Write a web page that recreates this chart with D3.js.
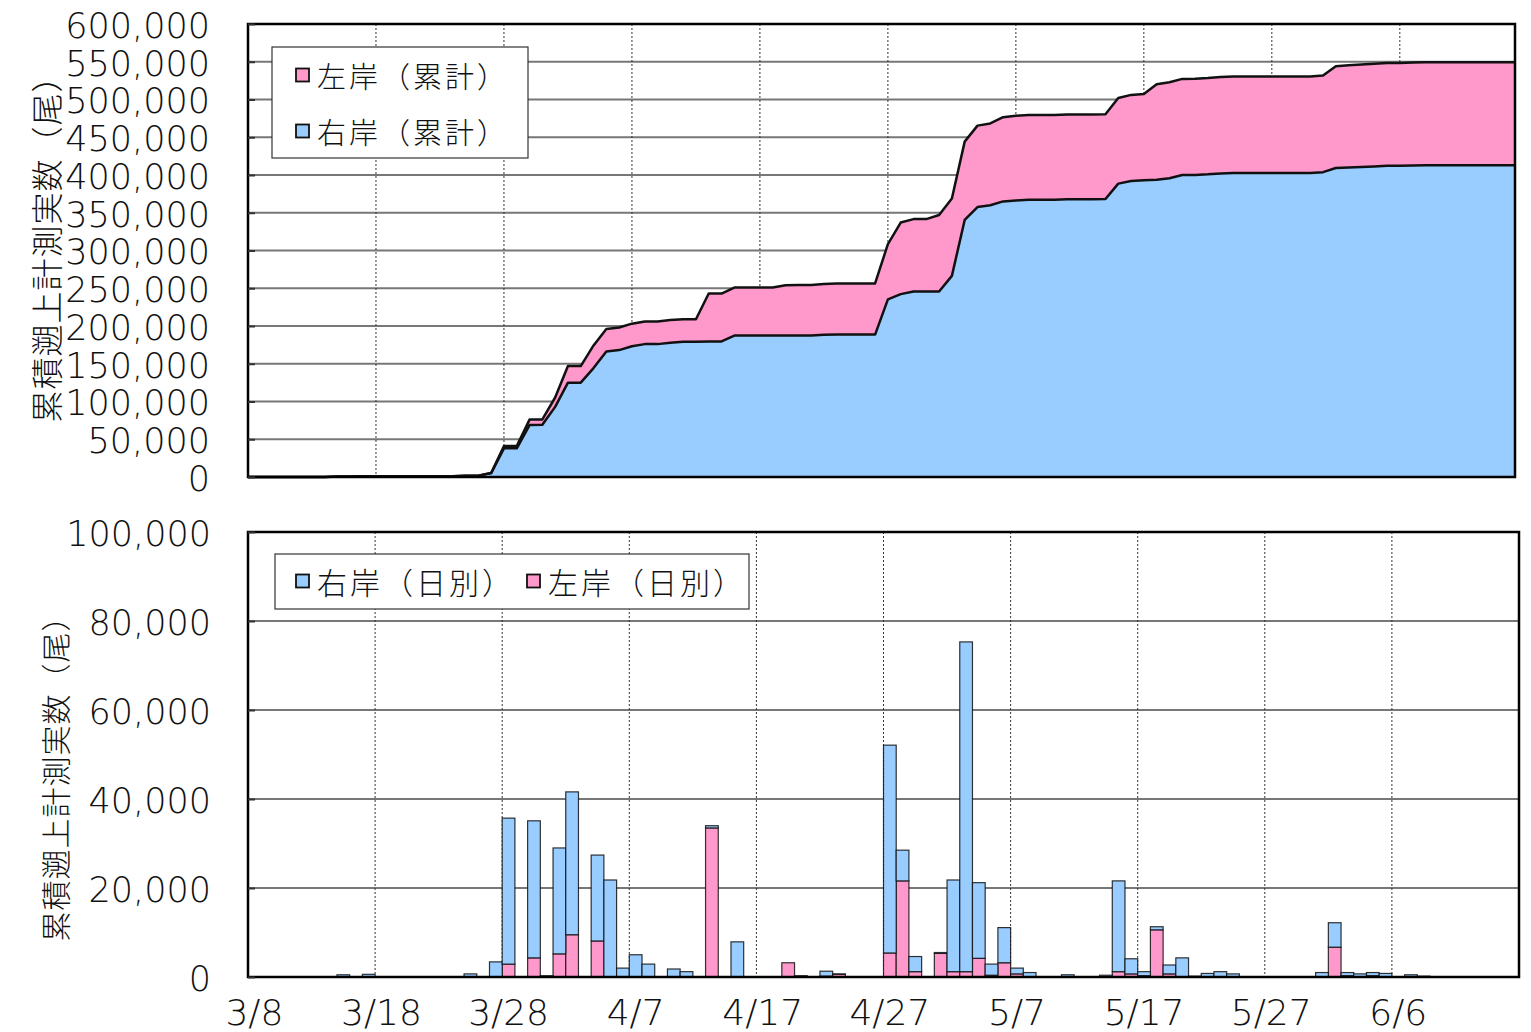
<!DOCTYPE html>
<html>
<head>
<meta charset="utf-8">
<script src="https://cdnjs.cloudflare.com/ajax/libs/d3/7.8.5/d3.min.js"></script>
<style>
  body { margin: 0; background: #fff; }
  svg { display: block; }
</style>
</head>
<body>
<svg id="chart" width="1531" height="1032"></svg>
<script>
// ── Data (index 0 = 3/8, one value per day up to 6/15) ─────────────────────
const START_DATE = new Date(2021, 2, 8);
const N_DAYS = 100;
const TICK_EVERY = 10;

// daily counts, bottom chart
const RIGHT_DAILY = [
  0, 0, 0, 0, 0, 0, 0, 500, 0, 600,
  0, 0, 0, 0, 0, 0, 0, 700, 0, 3400,
  32800, 0, 30800, 300, 23800, 32100, 0, 19300, 21800, 2000,
  5000, 2900, 0, 1800, 1200, 0, 500, 0, 7900, 0,
  0, 0, 0, 0, 0, 1100, 100, 0, 0, 0,
  46700, 6900, 3400, 0, 200, 20600, 74100, 17000, 2500, 7900,
  1300, 1000, 0, 0, 500, 0, 0, 400, 20400, 3400,
  900, 700, 2000, 4300, 200, 800, 1200, 700, 0, 0,
  0, 0, 0, 0, 1000, 5500, 700, 700, 700, 800,
  0, 500, 200, 0, 0, 0, 0, 0, 0, 0
];
const LEFT_DAILY = [
  0, 0, 0, 0, 0, 0, 0, 0, 0, 0,
  0, 0, 0, 0, 0, 0, 0, 0, 0, 0,
  2900, 0, 4300, 0, 5200, 9500, 0, 8100, 0, 0,
  0, 0, 0, 0, 0, 0, 33500, 0, 0, 0,
  0, 0, 3200, 300, 0, 200, 600, 0, 0, 0,
  5400, 21600, 1200, 0, 5300, 1200, 1200, 4200, 400, 3200,
  700, 0, 0, 0, 0, 0, 0, 0, 1200, 700,
  300, 10600, 700, 0, 0, 0, 0, 0, 0, 0,
  0, 0, 0, 0, 0, 6700, 300, 0, 300, 0,
  0, 0, 0, 0, 0, 0, 0, 0, 0, 0
];

// cumulative counts, top chart
const RIGHT_CUM = [
  0, 0, 0, 0, 0, 0, 0, 500, 500, 1100,
  1100, 1100, 1100, 1100, 1100, 1100, 1100, 1800, 1800, 5200,
  38000, 38000, 68800, 69100, 92900, 125000, 125000, 144300, 166100, 168100,
  173100, 176000, 176000, 177800, 179000, 179000, 179500, 179500, 187400, 187400,
  187400, 187400, 187400, 187400, 187400, 188500, 188600, 188600, 188600, 188600,
  235300, 242200, 245600, 245600, 245800, 266400, 340500, 357500, 360000, 365000,
  366300, 367300, 367300, 367300, 367800, 367800, 367800, 368200, 388600, 392000,
  392900, 393600, 395600, 399900, 400100, 400900, 402100, 402800, 402800, 402800,
  402800, 402800, 402800, 402800, 403800, 409300, 410000, 410700, 411400, 412200,
  412200, 412700, 412900, 412900, 412900, 412900, 412900, 412900, 412900, 412900
];
const LEFT_CUM = [
  0, 0, 0, 0, 0, 0, 0, 0, 0, 0,
  0, 0, 0, 0, 0, 0, 0, 0, 0, 0,
  2900, 2900, 7200, 7200, 12400, 21900, 21900, 30000, 30000, 30000,
  30000, 30000, 30000, 30000, 30000, 30000, 63500, 63500, 63500, 63500,
  63500, 63500, 66700, 67000, 67000, 67200, 67800, 67800, 67800, 67800,
  73200, 94800, 96000, 96000, 101300, 102500, 103700, 107900, 108300, 111500,
  112200, 112200, 112200, 112200, 112200, 112200, 112200, 112200, 113400, 114100,
  114400, 126500, 127200, 127400, 127500, 127600, 127700, 127800, 127800, 127800,
  127800, 127800, 127800, 127800, 128000, 134800, 135400, 135600, 136000, 136200,
  136200, 136400, 136500, 136500, 136500, 136500, 136600, 136600, 136600, 136600
];

const TOP_Y_TICKS = d3.range(0, 600001, 50000);
const BOTTOM_Y_TICKS = [0, 20000, 40000, 60000, 80000, 100000];
const Y_TITLE = '累積遡上計測実数（尾）';
const TOP_LEGEND = ['左岸（累計）', '右岸（累計）'];
const BOTTOM_LEGEND = ['右岸（日別）', '左岸（日別）'];

const PINK = '#ff99cc', BLUE = '#99ccff';
const NUM_FONT = '"DejaVu Sans", sans-serif';
const JP_FONT = '"Noto Sans CJK JP", sans-serif';

const days = d3.range(N_DAYS);
const dayLabel = i => d3.timeFormat('%-m/%-d')(d3.timeDay.offset(START_DATE, i));

const svg = d3.select('#chart');

// ── Top chart: stacked cumulative areas ───────────────────────────────────
const TOP = { left: 248, right: 1515, top: 24, bottom: 477 };
const xTop = d3.scalePoint().domain(days).range([TOP.left, TOP.right]);
const yTop = d3.scaleLinear().domain([0, 600000]).range([TOP.bottom, TOP.top]);

const topG = svg.append('g');

// gridlines
topG.selectAll('line.hgrid').data(TOP_Y_TICKS.slice(1, -1)).join('line')
  .attr('x1', TOP.left).attr('x2', TOP.right)
  .attr('y1', d => yTop(d)).attr('y2', d => yTop(d))
  .attr('stroke', '#777').attr('stroke-width', 2);
topG.selectAll('line.vgrid').data(days.filter(d => d > 0 && d % TICK_EVERY === 0)).join('line')
  .attr('x1', d => xTop(d)).attr('x2', d => xTop(d))
  .attr('y1', TOP.top).attr('y2', TOP.bottom)
  .attr('stroke', '#333').attr('stroke-width', 1).attr('stroke-dasharray', '2,2');

const areaRight = d3.area()
  .x(i => xTop(i)).y0(yTop(0)).y1(i => yTop(RIGHT_CUM[i]));
const areaLeft = d3.area()
  .x(i => xTop(i)).y0(i => yTop(RIGHT_CUM[i])).y1(i => yTop(RIGHT_CUM[i] + LEFT_CUM[i]));

topG.append('path').datum(days).attr('d', areaRight).attr('fill', BLUE);
topG.append('path').datum(days).attr('d', areaLeft).attr('fill', PINK);
topG.append('path').datum(days)
  .attr('d', d3.line().x(i => xTop(i)).y(i => yTop(RIGHT_CUM[i])))
  .attr('fill', 'none').attr('stroke', '#111').attr('stroke-width', 2.5).attr('stroke-linejoin', 'round');
topG.append('path').datum(days)
  .attr('d', d3.line().x(i => xTop(i)).y(i => yTop(RIGHT_CUM[i] + LEFT_CUM[i])))
  .attr('fill', 'none').attr('stroke', '#111').attr('stroke-width', 2.5).attr('stroke-linejoin', 'round');

topG.append('rect')
  .attr('x', TOP.left).attr('y', TOP.top)
  .attr('width', TOP.right - TOP.left).attr('height', TOP.bottom - TOP.top)
  .attr('fill', 'none').attr('stroke', '#000').attr('stroke-width', 2.5);

topG.append('g')
  .attr('transform', `translate(${TOP.left},0)`)
  .call(d3.axisLeft(yTop).tickValues(TOP_Y_TICKS).tickFormat(d3.format(','))
    .tickSizeInner(-7).tickSizeOuter(0).tickPadding(38))
  .call(g => g.select('.domain').remove())
  .call(g => g.selectAll('line').attr('stroke', '#333').attr('stroke-width', 2))
  .call(g => g.selectAll('text')
    .attr('font-family', NUM_FONT).attr('font-weight', 200).attr('font-size', 35)
    .attr('fill', '#111').attr('dy', '0.38em'));

// ── Bottom chart: stacked daily bars ──────────────────────────────────────
const BOT = { left: 248, right: 1519, top: 532, bottom: 977 };
const xBot = d3.scaleBand().domain(days).range([BOT.left, BOT.right]).padding(0);
const yBot = d3.scaleLinear().domain([0, 100000]).range([BOT.bottom, BOT.top]);

const botG = svg.append('g');

botG.selectAll('line.hgrid').data(BOTTOM_Y_TICKS.slice(1, -1)).join('line')
  .attr('x1', BOT.left).attr('x2', BOT.right)
  .attr('y1', d => yBot(d)).attr('y2', d => yBot(d))
  .attr('stroke', '#777').attr('stroke-width', 2);
botG.selectAll('line.vgrid').data(days.filter(d => d > 0 && d % TICK_EVERY === 0)).join('line')
  .attr('x1', d => xBot(d)).attr('x2', d => xBot(d))
  .attr('y1', BOT.top).attr('y2', BOT.bottom)
  .attr('stroke', '#333').attr('stroke-width', 1).attr('stroke-dasharray', '2,2');

// pink (left) sits at the bottom of each stack, blue (right) on top
const stackRows = days.map(i => ({ i, left: LEFT_DAILY[i], right: RIGHT_DAILY[i] }));
const stacked = d3.stack().keys(['left', 'right'])(stackRows);
const fills = { left: PINK, right: BLUE };

botG.selectAll('g.layer').data(stacked).join('g')
  .attr('fill', d => fills[d.key])
  .selectAll('rect').data(d => d.filter(s => s[1] - s[0] > 0)).join('rect')
  .attr('x', s => xBot(s.data.i))
  .attr('width', xBot.bandwidth())
  .attr('y', s => yBot(s[1]))
  .attr('height', s => yBot(s[0]) - yBot(s[1]))
  .attr('stroke', '#111').attr('stroke-width', 1.2).attr('stroke-opacity', 0.85);

botG.append('rect')
  .attr('x', BOT.left).attr('y', BOT.top)
  .attr('width', BOT.right - BOT.left).attr('height', BOT.bottom - BOT.top)
  .attr('fill', 'none').attr('stroke', '#000').attr('stroke-width', 2.5);

botG.append('g')
  .attr('transform', `translate(${BOT.left},0)`)
  .call(d3.axisLeft(yBot).tickValues(BOTTOM_Y_TICKS).tickFormat(d3.format(','))
    .tickSizeInner(-7).tickSizeOuter(0).tickPadding(37))
  .call(g => g.select('.domain').remove())
  .call(g => g.selectAll('line').attr('stroke', '#333').attr('stroke-width', 2))
  .call(g => g.selectAll('text')
    .attr('font-family', NUM_FONT).attr('font-weight', 200).attr('font-size', 35)
    .attr('fill', '#111').attr('dy', '0.38em'));

botG.append('g')
  .attr('transform', `translate(0,${BOT.bottom})`)
  .call(d3.axisBottom(xBot).tickValues(days.filter(d => d % TICK_EVERY === 0))
    .tickFormat(dayLabel).tickSize(0))
  .call(g => g.select('.domain').remove())
  .call(g => g.selectAll('text')
    .attr('font-family', NUM_FONT).attr('font-weight', 200).attr('font-size', 36)
    .attr('fill', '#111').attr('y', 48).attr('dy', 0));

// ── Axis titles ───────────────────────────────────────────────────────────
[[45, 241, 32], [54, 771, 30]].forEach(([x, y, fs]) => {
  svg.append('text')
    .attr('transform', `translate(${x},${y}) rotate(-90)`)
    .attr('text-anchor', 'middle').attr('dominant-baseline', 'central')
    .attr('font-family', JP_FONT).attr('font-weight', 300).attr('font-size', fs)
    .attr('fill', '#111').attr('letter-spacing', 1)
    .text(Y_TITLE);
});

// ── Legends ───────────────────────────────────────────────────────────────
function legendBox(x, y, w, h) {
  svg.append('rect').attr('x', x).attr('y', y).attr('width', w).attr('height', h)
    .attr('fill', '#fff').attr('stroke', '#333').attr('stroke-width', 1.2);
}
function legendItem(x, y, color, label, fs) {
  svg.append('rect').attr('x', x).attr('y', y - 6.5).attr('width', 13).attr('height', 13)
    .attr('fill', color).attr('stroke', '#111').attr('stroke-width', 1.8);
  svg.append('text').attr('x', x + 21).attr('y', y)
    .attr('dominant-baseline', 'central')
    .attr('font-family', JP_FONT).attr('font-weight', 300).attr('font-size', fs)
    .attr('fill', '#111').attr('letter-spacing', 3)
    .text(label);
}

legendBox(272, 47, 256, 111);
legendItem(296, 75, PINK, TOP_LEGEND[0], 29);
legendItem(296, 131, BLUE, TOP_LEGEND[1], 29);

legendBox(275, 554, 474, 55);
legendItem(296, 581, BLUE, BOTTOM_LEGEND[0], 30);
legendItem(527, 581, PINK, BOTTOM_LEGEND[1], 30);
</script>
</body>
</html>
